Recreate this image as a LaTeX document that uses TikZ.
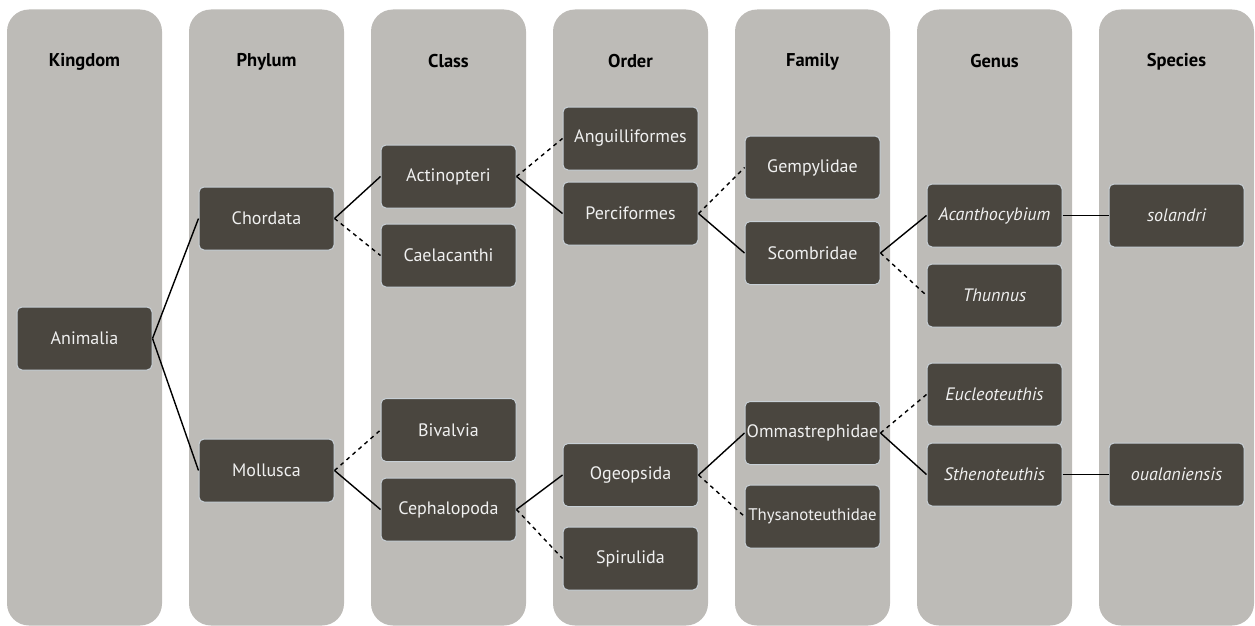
\documentclass[tikz,border=0pt]{standalone}
\usepackage{fontspec}
\setmainfont{PT Sans}
\begin{document}
\begin{tikzpicture}[x=1pt,y=-1pt,
  colbox/.style={fill=colgray, draw=none, rounded corners=22pt},
  head/.style={font=\bfseries\fontsize{18.5}{20}\selectfont, text=black},
  taxon/.style={fill=nodebrown, draw=nodeedge, line width=1pt, rounded corners=5pt,
    minimum width=135pt, minimum height=63pt, text=white!94!black,
    font=\fontsize{18}{20}\selectfont, inner sep=0pt},
  gen/.style={taxon, font=\itshape\fontsize{18}{20}\selectfont},
  sure/.style={line width=1.4pt, black},
  maybe/.style={line width=1.4pt, black, dash pattern=on 4pt off 4pt}]
\definecolor{colgray}{HTML}{BDBBB7}
\definecolor{nodebrown}{HTML}{4A463F}
\definecolor{nodeedge}{HTML}{C8D0D6}
\useasboundingbox (0,0) rectangle (1255,626);
% columns
\foreach \i/\t in {0/Kingdom,1/Phylum,2/Class,3/Order,4/Family,5/Genus,6/Species}{
  \fill[colgray, rounded corners=22pt] ({7+182*\i},9.5) rectangle ({162+182*\i},625.5);
  \node[head] (h\i) at ({84.5+182*\i},61.5) {\t};
}
% nodes
\node[taxon] (animalia) at (84.5,338.5) {Animalia};
\node[taxon] (chordata) at (266.5,218.5) {Chordata};
\node[taxon] (mollusca) at (266.5,470.5) {Mollusca};
\node[taxon] (actinopteri) at (448.5,176.5) {Actinopteri};
\node[taxon] (caelacanthi) at (448.5,255.5) {Caelacanthi};
\node[taxon] (bivalvia) at (448.5,430) {Bivalvia};
\node[taxon] (cephalopoda) at (448.5,509.5) {Cephalopoda};
\node[taxon] (anguilliformes) at (630.5,138.5) {Anguilliformes};
\node[taxon] (perciformes) at (630.5,213.5) {Perciformes};
\node[taxon] (ogeopsida) at (630.5,475) {Ogeopsida};
\node[taxon] (spirulida) at (630.5,558.5) {Spirulida};
\node[taxon] (gempylidae) at (812.5,167.5) {Gempylidae};
\node[taxon] (scombridae) at (812.5,253) {Scombridae};
\node[taxon] (ommastrephidae) at (812.5,433) {Ommastrephidae};
\node[taxon, font=\fontsize{16.8}{20}\selectfont] (thysanoteuthidae) at (812.5,516.5) {Thysanoteuthidae};
\node[gen] (acanthocybium) at (994.5,215.5) {Acanthocybium};
\node[gen] (thunnus) at (994.5,295.5) {Thunnus};
\node[gen] (eucleoteuthis) at (994.5,394.5) {Eucleoteuthis};
\node[gen] (sthenoteuthis) at (994.5,474.5) {Sthenoteuthis};
\node[gen] (solandri) at (1176.5,215.5) {solandri};
\node[gen] (oualaniensis) at (1176.5,474.5) {oualaniensis};
% connectors
\draw[sure] (animalia.east) -- (chordata.west);
\draw[sure] (animalia.east) -- (mollusca.west);
\draw[sure] (chordata.east) -- (actinopteri.west);
\draw[maybe] (chordata.east) -- (caelacanthi.west);
\draw[maybe] (mollusca.east) -- (bivalvia.west);
\draw[sure] (mollusca.east) -- (cephalopoda.west);
\draw[maybe] (actinopteri.east) -- (anguilliformes.west);
\draw[sure] (actinopteri.east) -- (perciformes.west);
\draw[sure] (cephalopoda.east) -- (ogeopsida.west);
\draw[maybe] (cephalopoda.east) -- (spirulida.west);
\draw[maybe] (perciformes.east) -- (gempylidae.west);
\draw[sure] (perciformes.east) -- (scombridae.west);
\draw[sure] (ogeopsida.east) -- (ommastrephidae.west);
\draw[maybe] (ogeopsida.east) -- (thysanoteuthidae.west);
\draw[sure] (scombridae.east) -- (acanthocybium.west);
\draw[maybe] (scombridae.east) -- (thunnus.west);
\draw[maybe] (ommastrephidae.east) -- (eucleoteuthis.west);
\draw[sure] (ommastrephidae.east) -- (sthenoteuthis.west);
\draw[sure] (acanthocybium.east) -- (solandri.west);
\draw[sure] (sthenoteuthis.east) -- (oualaniensis.west);
\end{tikzpicture}
\end{document}
